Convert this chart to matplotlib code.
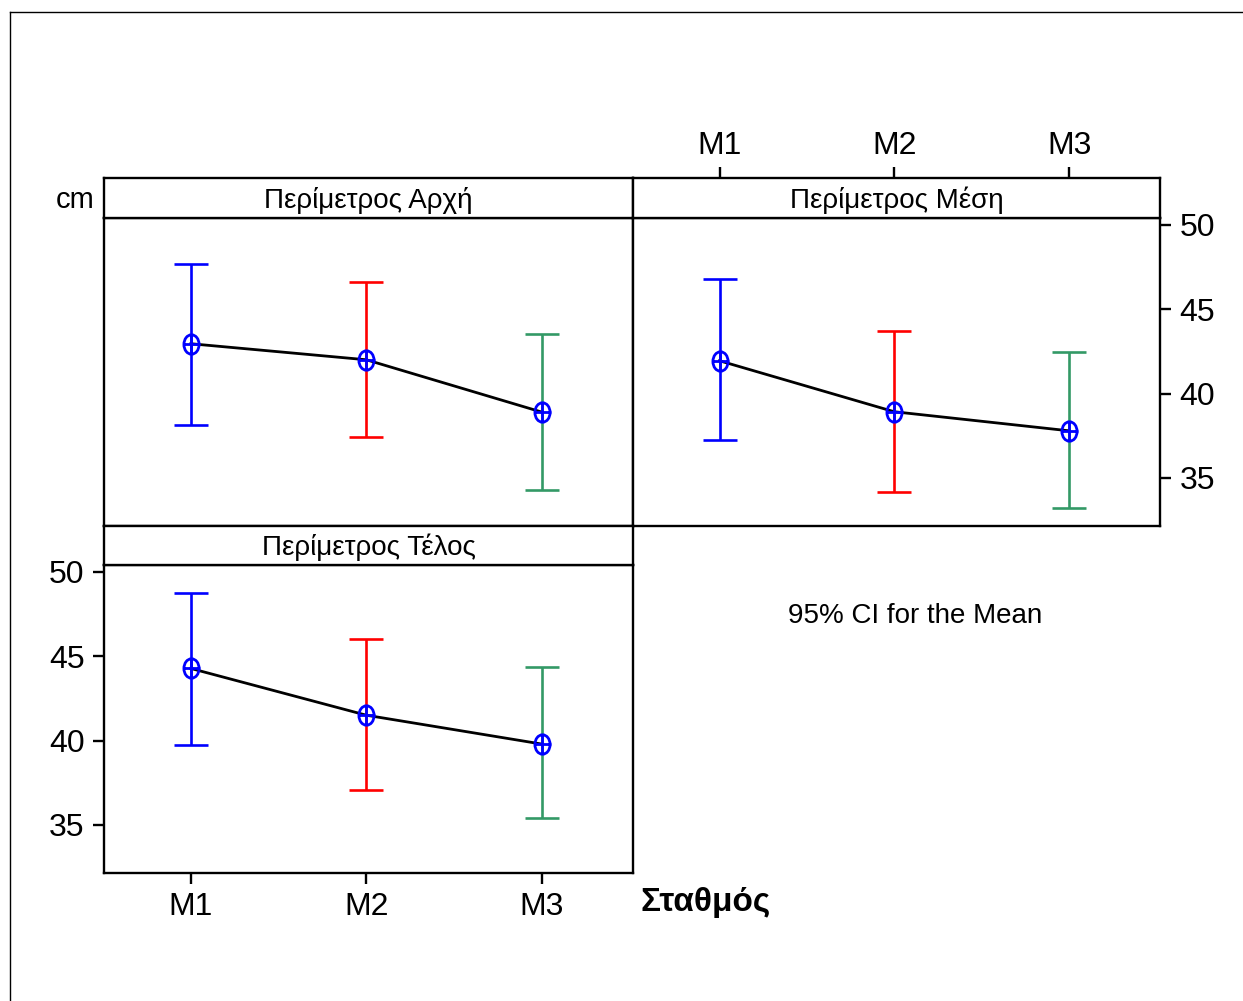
import matplotlib
matplotlib.use("Agg")
import matplotlib.pyplot as plt
import numpy as np
from matplotlib.path import Path
from matplotlib.lines import Line2D

plt.rcParams['font.family'] = ['Liberation Sans', 'DejaVu Sans']

stations = ["M1", "M2", "M3"]
titles = ["Περίμετρος Αρχή", "Περίμετρος Μέση", "Περίμετρος Τέλος"]
ci_colors = ["#0000FF", "#FF0000", "#339966"]

arche_mean = [42.95, 42.0, 38.9]
arche_lo = [38.14, 37.43, 34.29]
arche_hi = [47.69, 46.62, 43.54]

mesi_mean = [41.94, 38.92, 37.79]
mesi_lo = [37.25, 34.17, 33.22]
mesi_hi = [46.8, 43.72, 42.47]

telos_mean = [44.27, 41.5, 39.79]
telos_lo = [39.73, 37.07, 35.42]
telos_hi = [48.76, 46.04, 44.33]

yticks = [35, 40, 45, 50]

W, H = 1243, 1001
fig = plt.figure(figsize=(W / 100, H / 100), dpi=100)

def px_axes(x0, y0, x1, y1):
    return fig.add_axes([x0 / W, 1 - y1 / H, (x1 - x0) / W, (y1 - y0) / H])

# ellipse with a plus inside, like the mean symbol
circ = Path.unit_circle()
ell = Path(circ.vertices * [0.78, 1.0], circ.codes)
plus = Path([(-0.78, 0), (0.9, 0), (0, -1), (0, 1)],
            [Path.MOVETO, Path.LINETO, Path.MOVETO, Path.LINETO])
mean_marker = Path.make_compound_path(ell, plus)

def draw_panel(ax, mean, lo, hi):
    x = np.arange(1, len(stations) + 1)
    for i in range(len(x)):
        ax.errorbar(x[i], mean[i], yerr=[[mean[i] - lo[i]], [hi[i] - mean[i]]],
                    fmt="none", ecolor=ci_colors[i], elinewidth=1.9,
                    capsize=12, capthick=1.9)
    ax.plot(x, mean, color="black", lw=2.0, zorder=3)
    ax.plot(x, mean, ls="none", marker=mean_marker, markersize=14,
            markerfacecolor="none", markeredgecolor="#0000FF",
            markeredgewidth=2.0, zorder=4)
    ax.set_xlim(0.505, 3.52)
    ax.set_ylim(32.15, 50.4)
    ax.set_xticks(x)
    ax.set_yticks(yticks)
    ax.tick_params(left=False, bottom=False, labelleft=False, labelbottom=False)
    for s in ax.spines.values():
        s.set_linewidth(1.7)

def draw_header(ax, text):
    ax.set_xlim(0.505, 3.52)
    ax.set_xticks([])
    ax.set_yticks([])
    for s in ax.spines.values():
        s.set_linewidth(1.7)
    ax.text(0.5, 0.45, text, transform=ax.transAxes, ha="center", va="center",
            fontsize=20)

# top left
ax1 = px_axes(104, 218, 633, 526)
h1 = px_axes(104, 178, 633, 218)
draw_panel(ax1, arche_mean, arche_lo, arche_hi)
draw_header(h1, titles[0])

# top right
ax2 = px_axes(633, 218, 1160, 526)
h2 = px_axes(633, 178, 1160, 218)
draw_panel(ax2, mesi_mean, mesi_lo, mesi_hi)
draw_header(h2, titles[1])
ax2.yaxis.tick_right()
ax2.tick_params(right=True, labelright=True, length=8, width=1.7,
                labelsize=23, pad=6)
h2.set_xticks(np.arange(1, 4))
h2.set_xticklabels(stations)
h2.xaxis.tick_top()
h2.tick_params(top=True, labeltop=True, length=8, width=1.7,
               labelsize=23, pad=4)

# bottom left
ax3 = px_axes(104, 565, 633, 873)
h3 = px_axes(104, 526, 633, 565)
draw_panel(ax3, telos_mean, telos_lo, telos_hi)
draw_header(h3, titles[2])
ax3.set_xticklabels(stations)
ax3.tick_params(left=True, labelleft=True, bottom=True, labelbottom=True,
                length=8, width=1.7, labelsize=23, pad=6)

fig.text(95 / W, 1 - 200 / H, "cm", ha="right", va="center", fontsize=21)
fig.text(640 / W, 1 - 903 / H, "Σταθμός", ha="left", va="center",
         fontsize=24, fontweight="bold")
fig.text(915 / W, 1 - 616 / H, "95% CI for the Mean", ha="center",
         va="center", fontsize=20)

# outer frame (only left and top edges visible)
fig.add_artist(Line2D([10 / W, 10 / W], [0, 1 - 12 / H], color="black", lw=1.0))
fig.add_artist(Line2D([10 / W, 1], [1 - 12 / H, 1 - 12 / H], color="black", lw=1.0))

fig.savefig("out.png", dpi=100)
